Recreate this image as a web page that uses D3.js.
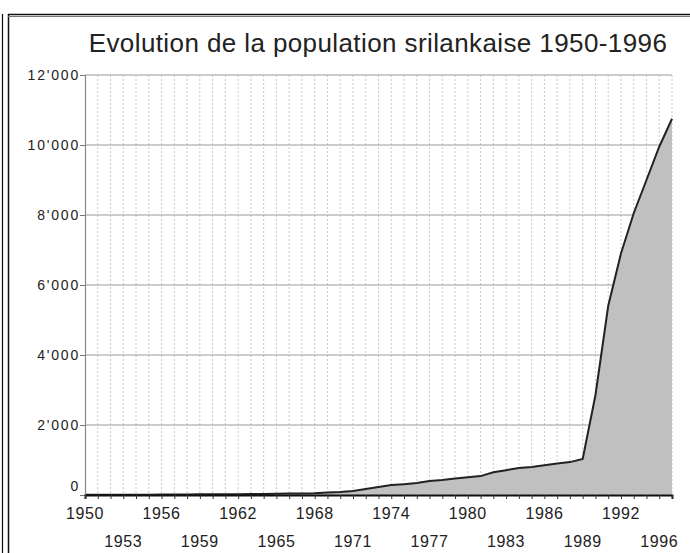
<!DOCTYPE html>
<html lang="fr">
  <head>
    <meta charset="utf-8" />
    <title>Evolution de la population srilankaise</title>
    <script src="https://d3js.org/d3.v7.min.js" charset="utf-8"></script>
    <style>
      body { margin: 0; background: #fff; }
      svg { display: block; font-family: "Liberation Sans", Arial, sans-serif; }
    </style>
  </head>
  <body>
    <div id="graph-container"></div>
    <script type="text/javascript">
      // data
      const vYears = [
        1950, 1951, 1952, 1953, 1954, 1955, 1956, 1957, 1958, 1959,
        1960, 1961, 1962, 1963, 1964, 1965, 1966, 1967, 1968, 1969,
        1970, 1971, 1972, 1973, 1974, 1975, 1976, 1977, 1978, 1979,
        1980, 1981, 1982, 1983, 1984, 1985, 1986, 1987, 1988, 1989,
        1990, 1991, 1992, 1993, 1994, 1995, 1996
      ];
      const vPopulation = [
        5, 6, 7, 8, 9, 10, 12, 14, 16, 18,
        20, 22, 25, 28, 32, 36, 40, 45, 50, 70,
        85, 115, 170, 230, 285, 310, 340, 400, 430, 470,
        510, 540, 650, 710, 770, 800, 850, 900, 940, 1030,
        2850, 5400, 6900, 8050, 9000, 9950, 10750
      ];
      const vYTicks = [0, 2000, 4000, 6000, 8000, 10000, 12000];
      const vYTickLabels = ["0", "2'000", "4'000", "6'000", "8'000", "10'000", "12'000"];
      // x labels in two staggered rows: slot year -> text shown
      const vXLabelsTop = [
        [1950, "1950"], [1956, "1956"], [1962, "1962"], [1968, "1968"],
        [1974, "1974"], [1980, "1980"], [1986, "1986"], [1992, "1992"]
      ];
      const vXLabelsBottom = [
        [1953, "1953"], [1959, "1959"], [1965, "1965"], [1971, "1971"],
        [1977, "1977"], [1983, "1983"], [1989, "1989"], [1995, "1996"]
      ];
      const cTitle = "Evolution de la population srilankaise 1950-1996";

      const cWSvg = 690,
        cHSvg = 553,
        cLeft = 85,
        cRight = 672,
        cTop = 75,
        cBottom = 495;

      const graph = d3
        .select("#graph-container")
        .append("svg")
        .attr("width", cWSvg)
        .attr("height", cHSvg);

      //frame
      graph.append("line")
        .attr("x1", 2.5).attr("x2", 2.5)
        .attr("y1", 14).attr("y2", cHSvg)
        .attr("stroke", "#111").attr("stroke-width", 1.2);
      graph.append("rect")
        .attr("x", 8.5).attr("y", 14.5)
        .attr("width", 700).attr("height", 600)
        .attr("fill", "none")
        .attr("stroke", "#111").attr("stroke-width", 1.5);
      graph.append("line")
        .attr("x1", 8).attr("x2", cWSvg)
        .attr("y1", 16.5).attr("y2", 16.5)
        .attr("stroke", "#777").attr("stroke-width", 1);

      //title
      graph.append("text")
        .attr("x", 378)
        .attr("y", 52)
        .attr("text-anchor", "middle")
        .attr("fill", "#222")
        .style("font-size", "26px")
        .style("letter-spacing", "0.4px")
        .text(cTitle);

      //scales
      const xScale = d3.scalePoint().domain(vYears).range([cLeft, cRight]);
      const yScale = d3.scaleLinear().domain([0, 12000]).range([cBottom, cTop]);

      //vertical dotted grid, one per year
      graph.append("g")
        .selectAll("line")
        .data(vYears.slice(1))
        .enter()
        .append("line")
        .attr("x1", (d) => xScale(d))
        .attr("x2", (d) => xScale(d))
        .attr("y1", cTop)
        .attr("y2", cBottom)
        .attr("stroke", "#c8c8c8")
        .attr("stroke-width", 1)
        .attr("stroke-dasharray", "2,2");

      //horizontal grid
      graph.append("g")
        .selectAll("line")
        .data(vYTicks.slice(1))
        .enter()
        .append("line")
        .attr("x1", cLeft)
        .attr("x2", cRight)
        .attr("y1", (d) => yScale(d))
        .attr("y2", (d) => yScale(d))
        .attr("stroke", "#999")
        .attr("stroke-width", 1.2);

      //area + outline
      const area = d3.area()
        .x((d, i) => xScale(vYears[i]))
        .y0(yScale(0))
        .y1((d) => yScale(d));
      const line = d3.line()
        .x((d, i) => xScale(vYears[i]))
        .y((d) => yScale(d));
      graph.append("path")
        .datum(vPopulation)
        .attr("d", area)
        .attr("fill", "#c0c0c0");
      graph.append("path")
        .datum(vPopulation)
        .attr("d", line)
        .attr("fill", "none")
        .attr("stroke", "#222")
        .attr("stroke-width", 2);

      //y axis
      const yAxis = d3.axisLeft(yScale)
        .tickValues(vYTicks)
        .tickSize(5)
        .tickPadding(0)
        .tickFormat((d, i) => vYTickLabels[i]);
      const gY = graph.append("g")
        .attr("transform", `translate(${cLeft},0)`)
        .call(yAxis);
      gY.select(".domain").attr("stroke", "#888").attr("stroke-width", 1.2);
      gY.selectAll(".tick line").attr("stroke", "#777");
      gY.selectAll(".tick text")
        .attr("fill", "#222")
        .style("font-size", "14px")
        .style("letter-spacing", "1.8px")
        .attr("dy", (d) => (d === 0 ? "-0.3em" : "0.32em"));

      //x axis: ticks every year, labels in two rows
      const xAxis = d3.axisBottom(xScale).tickSize(4).tickFormat("");
      const gX = graph.append("g")
        .attr("transform", `translate(0,${cBottom})`)
        .call(xAxis);
      gX.select(".domain").attr("stroke", "#111").attr("stroke-width", 2);
      gX.selectAll(".tick line").attr("stroke", "#333");

      const xLabelStyle = (sel) =>
        sel.attr("text-anchor", "middle")
          .attr("fill", "#222")
          .style("font-size", "16px")
          .style("letter-spacing", "0.6px");
      graph.append("g")
        .selectAll("text")
        .data(vXLabelsTop)
        .enter()
        .append("text")
        .attr("x", (d) => xScale(d[0]))
        .attr("y", 519)
        .call(xLabelStyle)
        .text((d) => d[1]);
      graph.append("g")
        .selectAll("text")
        .data(vXLabelsBottom)
        .enter()
        .append("text")
        .attr("x", (d) => xScale(d[0]))
        .attr("y", 547)
        .call(xLabelStyle)
        .text((d) => d[1]);
    </script>
  </body>
</html>
